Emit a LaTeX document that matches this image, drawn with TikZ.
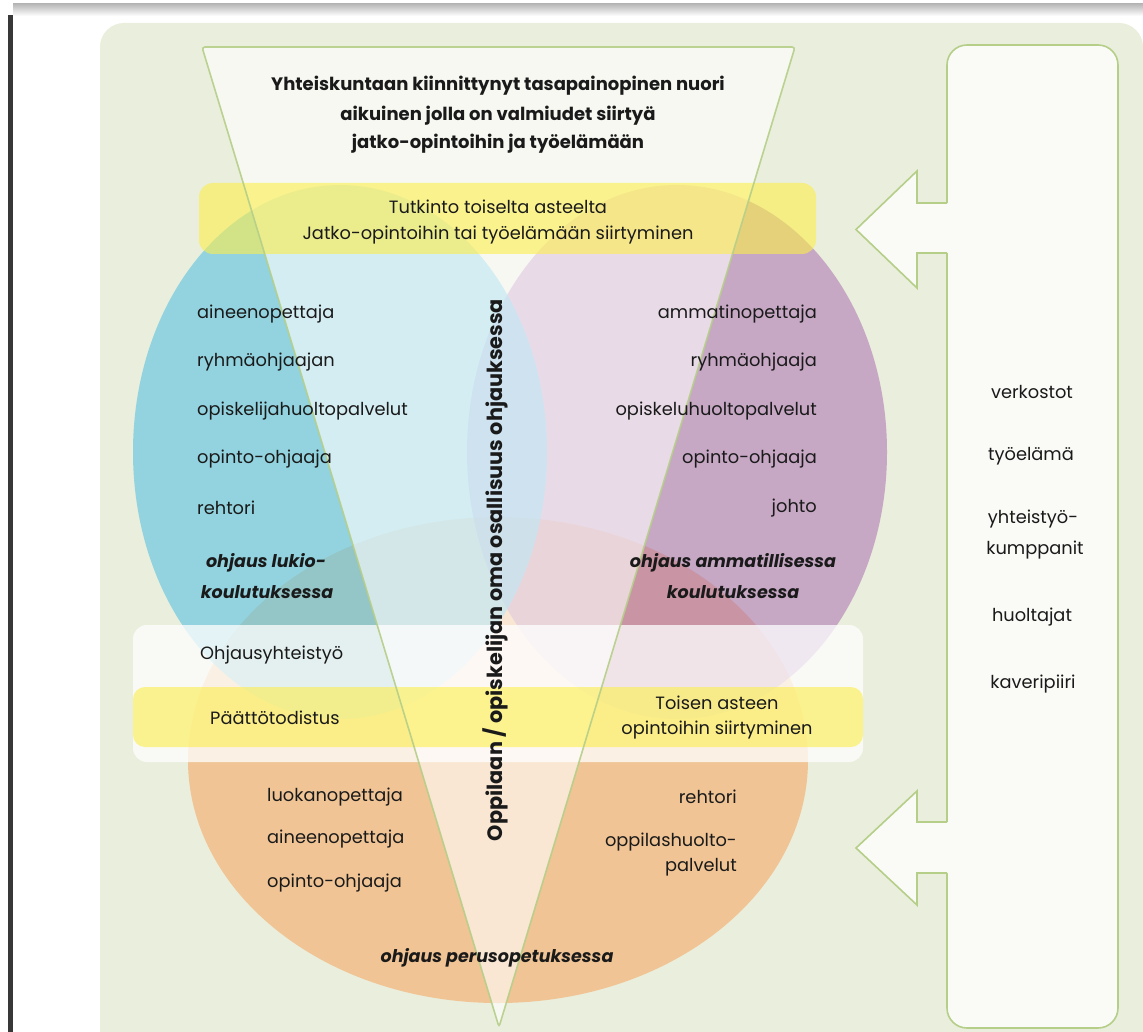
\documentclass[tikz,border=0pt]{standalone}
\usepackage{fontspec}
\setmainfont{Poppins}
\definecolor{bggreen}{HTML}{EAEEDC}
\definecolor{trigreen}{HTML}{B5CE88}
\definecolor{panelfill}{HTML}{FAFBF7}
\definecolor{bluec}{HTML}{63C6E2}
\definecolor{purplec}{HTML}{A96DB2}
\definecolor{orangec}{HTML}{F0C495}
\definecolor{yelc}{HTML}{FCEE4B}
\definecolor{txtc}{HTML}{1A1A1A}
\tikzset{
  txt/.style={inner sep=0pt, text=txtc, font=\fontsize{17.8}{20}\selectfont},
  btxt/.style={inner sep=0pt, text=txtc, font=\fontsize{18}{20}\selectfont\bfseries},
  bitxt/.style={inner sep=0pt, text=txtc, font=\fontsize{17.5}{20}\selectfont\bfseries\itshape},
  vtxt/.style={inner sep=0pt, text=txtc, font=\fontsize{20.8}{22}\selectfont\bfseries, rotate=90},
  panelshape/.style={fill=panelfill, draw=trigreen, line width=1.6pt},
}
\begin{document}
\begin{tikzpicture}[x=1pt,y=-1pt]
\useasboundingbox (0,0) rectangle (1143,1032);
\fill[white] (0,0) rectangle (1143,1032);
% page edge decorations
\shade[top color=black!28, bottom color=white] (13,4) rectangle (1143,16);
\fill[black!78] (8,15) rectangle (13,1032);
% background
\fill[bggreen, rounded corners=24pt] (100,23) rectangle (1143,1070);
% circles
\fill[orangec] (498,760) ellipse [x radius=310, y radius=243];
\fill[purplec, opacity=0.55] (677,452) ellipse [x radius=210, y radius=267];
\fill[bluec, opacity=0.65] (340,452) ellipse [x radius=207, y radius=267];
% triangle fill
\fill[white, opacity=0.6, rounded corners=3pt] (202,47) -- (795,47) -- (499,1027) -- cycle;
% bands
\fill[white, opacity=0.75, rounded corners=14pt] (133,625) rectangle (863,762);
\fill[yelc, opacity=0.6, rounded corners=14pt] (199,183) rectangle (816,254);
\fill[yelc, opacity=0.6, rounded corners=12pt] (133,687) rectangle (863,747);
% triangle outline
\draw[trigreen, line width=1.6pt, rounded corners=3pt, opacity=0.9] (202,47) -- (795,47) -- (499,1027) -- cycle;
% right panel with arrows
\filldraw[panelshape, rounded corners=20pt] (947,45) rectangle (1118,1028);
\fill[panelfill] (949,203) -- (917,203) -- (917,171) -- (856,229.5) -- (917,288) -- (917,253) -- (949,253) -- cycle;
\draw[trigreen, line width=1.6pt, line join=miter] (947,203) -- (917,203) -- (917,171) -- (856,229.5) -- (917,288) -- (917,253) -- (947,253);
\fill[panelfill] (949,822) -- (917,822) -- (917,791) -- (856,848) -- (917,905) -- (917,873) -- (949,873) -- cycle;
\draw[trigreen, line width=1.6pt, line join=miter] (947,822) -- (917,822) -- (917,791) -- (856,848) -- (917,905) -- (917,873) -- (947,873);
% top text
\node[btxt] (t1) at (498,86) {Yhteiskuntaan kiinnittynyt tasapainopinen nuori};
\node[btxt] (t2) at (498,116) {aikuinen jolla on valmiudet siirtyä};
\node[btxt] (t3) at (498,144) {jatko-opintoihin ja työelämään};
\node[txt] (b1) at (498,207) {Tutkinto toiselta asteelta};
\node[txt] (b2) at (498,235) {Jatko-opintoihin tai työelämään siirtyminen};
% left column
\node[txt, anchor=west] (l1) at (197,314) {aineenopettaja};
\node[txt, anchor=west] (l2) at (197,362) {ryhmäohjaajan};
\node[txt, anchor=west] (l3) at (197,411) {opiskelijahuoltopalvelut};
\node[txt, anchor=west] (l4) at (197,459) {opinto-ohjaaja};
\node[txt, anchor=west] (l5) at (197,508) {rehtori};
\node[bitxt] (l6) at (266,563) {ohjaus lukio-};
\node[bitxt] (l7) at (267,592) {koulutuksessa};
% right column
\node[txt, anchor=east] (r1) at (817,314) {ammatinopettaja};
\node[txt, anchor=east] (r2) at (817,362) {ryhmäohjaaja};
\node[txt, anchor=east] (r3) at (817,411) {opiskeluhuoltopalvelut};
\node[txt, anchor=east] (r4) at (817,459) {opinto-ohjaaja};
\node[txt, anchor=east] (r5) at (817,508) {johto};
\node[bitxt] (r6) at (733,563) {ohjaus ammatillisessa};
\node[bitxt] (r7) at (733,592) {koulutuksessa};
% bands text
\node[txt, anchor=west] (w1) at (200,655) {Ohjausyhteistyö};
\node[txt, anchor=west] (y1) at (210,718) {Päättötodistus};
\node[txt] (y2) at (717,703) {Toisen asteen};
\node[txt] (y3) at (717,730) {opintoihin siirtyminen};
% bottom
\node[txt, anchor=west] (o1) at (267,797) {luokanopettaja};
\node[txt, anchor=west] (o2) at (267,839) {aineenopettaja};
\node[txt, anchor=west] (o3) at (267,883) {opinto-ohjaaja};
\node[txt, anchor=east] (o4) at (737,797) {rehtori};
\node[txt, anchor=east] (o5) at (737,842) {oppilashuolto-};
\node[txt, anchor=east] (o6) at (737,867) {palvelut};
\node[bitxt] (o7) at (497,958) {ohjaus perusopetuksessa};
% vertical
\node[vtxt] (v) at (495,570) {Oppilaan / opiskelijan oma osallisuus ohjauksessa};
% right panel text
\node[txt] (p1) at (1032,392) {verkostot};
\node[txt] (p2) at (1031,456) {työelämä};
\node[txt] (p3) at (1033,519) {yhteistyö-};
\node[txt] (p4) at (1035,550) {kumppanit};
\node[txt] (p5) at (1032,617) {huoltajat};
\node[txt] (p6) at (1033,684) {kaveripiiri};
\end{tikzpicture}
\end{document}
